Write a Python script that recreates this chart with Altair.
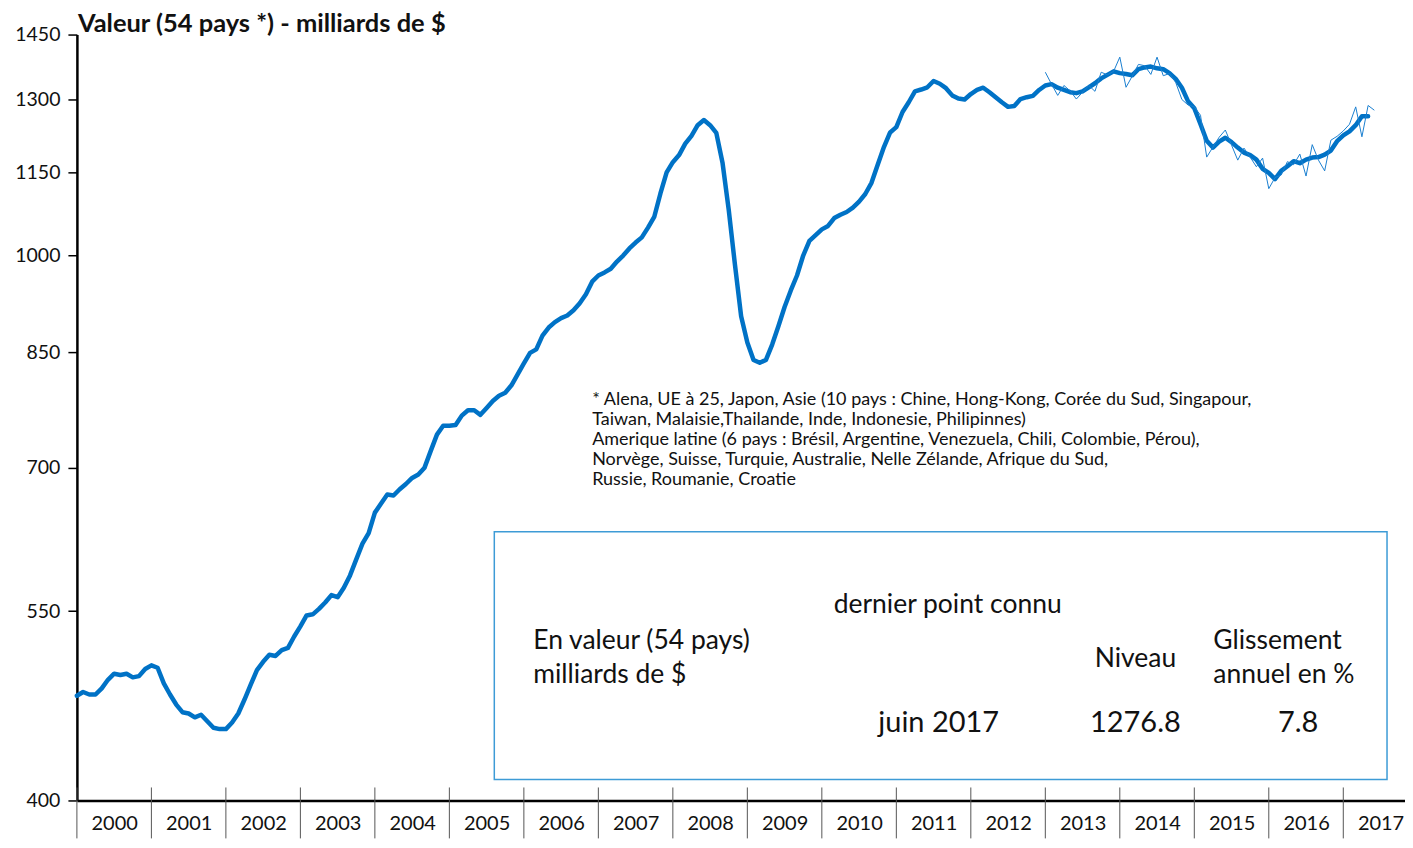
import altair as alt
import pandas as pd

# ---------------- data ----------------
annees = list(range(2000, 2018))
y_ticks = [400, 550, 700, 850, 1000, 1150, 1300, 1450]

# smoothed series (thick line), monthly Jan 2000 -> May 2017
tendance = [
    477, 480, 478, 478, 483, 490, 495, 494, 495, 492, 493, 499,          # 2000
    502, 500, 487, 478, 470, 464, 463, 460, 462, 457, 452, 451,          # 2001
    451, 456, 463, 474, 486, 498, 505, 511, 510, 515, 517, 527,          # 2002
    536, 546, 547, 552, 558, 565, 563, 572, 584, 600, 616, 627,          # 2003
    649, 659, 669, 668, 675, 681, 688, 692, 700, 720, 740, 751,          # 2004
    751, 752, 764, 771, 771, 765, 774, 783, 790, 794, 804, 819,          # 2005
    834, 849, 854, 874, 886, 894, 900, 904, 912, 923, 937, 957,          # 2006
    967, 972, 978, 990, 1000, 1012, 1022, 1031, 1048, 1067, 1110, 1150,  # 2007
    1170, 1184, 1207, 1223, 1245, 1256, 1245, 1229, 1169, 1080, 985, 903,  # 2008
    864, 839, 835, 839, 861, 888, 917, 943, 967, 1000, 1025, 1035,      # 2009
    1045, 1051, 1065, 1071, 1076, 1084, 1095, 1109, 1130, 1165, 1200, 1230,  # 2010
    1241, 1273, 1294, 1318, 1322, 1327, 1341, 1335, 1325, 1309, 1302, 1300,  # 2011
    1312, 1321, 1326, 1316, 1305, 1294, 1284, 1286, 1301, 1305, 1308, 1321,  # 2012
    1331, 1334, 1326, 1321, 1316, 1314, 1318, 1327, 1336, 1347, 1355, 1363,  # 2013
    1359, 1357, 1354, 1368, 1372, 1374, 1370, 1368, 1359, 1346, 1326, 1296,  # 2014
    1281, 1247, 1213, 1199, 1211, 1219, 1210, 1199, 1189, 1184, 1175, 1157,  # 2015
    1149, 1137, 1153, 1162, 1172, 1168, 1175, 1179, 1180, 1185, 1193, 1212,  # 2016
    1224, 1232, 1245, 1264, 1264,                                          # 2017
]

# raw monthly series (thin line), Jan 2013 -> Jun 2017
brut = [
    1361, 1334, 1309, 1331, 1319, 1301, 1316, 1331, 1318, 1361, 1355, 1363,  # 2013
    1396, 1327, 1352, 1379, 1376, 1356, 1396, 1353, 1358, 1338, 1300, 1288,  # 2014
    1284, 1266, 1180, 1200, 1220, 1235, 1204, 1174, 1198, 1180, 1161, 1178,  # 2015
    1119, 1140, 1145, 1171, 1165, 1186, 1143, 1205, 1174, 1153, 1214, 1222,  # 2016
    1233, 1247, 1284, 1221, 1287, 1276.8,                                    # 2017
]

titre = "Valeur (54 pays *) - milliards de $"
note_lignes = [
    "* Alena, UE à 25, Japon, Asie (10 pays : Chine, Hong-Kong, Corée du Sud, Singapour,",
    "Taiwan, Malaisie,Thailande, Inde, Indonesie, Philipinnes)",
    "Amerique latine (6 pays : Brésil, Argentine, Venezuela, Chili, Colombie, Pérou),",
    "Norvège, Suisse, Turquie,  Australie, Nelle Zélande, Afrique du Sud,",
    "Russie, Roumanie, Croatie",
]
box_gauche = ["En valeur (54 pays)", "milliards de $", "Glissement", "annuel en %"]
box_centre = ["dernier point connu", "Niveau"]
box_valeurs = ["juin 2017", "1276.8", "7.8"]

# ---------------- layout ----------------
BLUE = "#0072C6"
FONT = "Lato"
W = 1330
H = 767
PAD_TOP = 26
PAD_LEFT = 69
PAD_BOTTOM = 38
PLOT_TOP = 8 + PAD_TOP      # page y of plot top
PLOT_LEFT = 8 + PAD_LEFT    # page x of plot left
PX_PER_YEAR = 74.6


def rx(page_x):
    return page_x - PLOT_LEFT


def ry(page_y):
    return page_y - PLOT_TOP


def frac_years(start_year, n):
    return [start_year + i / 12 for i in range(n)]


df_t = pd.DataFrame({"t": frac_years(2000, len(tendance)), "v": tendance})
df_b = pd.DataFrame({"t": frac_years(2013, len(brut)), "v": brut})
df_an = pd.DataFrame({"an": annees})
one = pd.DataFrame({"k": [0]})

x_scale = alt.Scale(domain=[2000, 2000 + W / PX_PER_YEAR], nice=False, zero=False)
y_scale = alt.Scale(type="log", domain=[400, 1450], nice=False)

x_axis = alt.Axis(
    values=annees, format="d", title=None, ticks=False, grid=False,
    labelOffset=PX_PER_YEAR / 2, labelPadding=13, labelFontSize=20,
    labelFont=FONT, labelColor="#111", labelOverlap=False, labelBound=False,
    labelFlush=False, labelBaseline="top",
    domainColor="#000", domainWidth=2.5,
)
y_axis = alt.Axis(
    values=y_ticks, format="d", title=None, grid=False,
    tickSize=9, tickColor="#000", tickWidth=1.5,
    labelFontSize=19.5, labelFont=FONT, labelColor="#111", labelPadding=8,
    labelOverlap=False, minExtent=64, maxExtent=64,
    domainColor="#000", domainWidth=2.5,
)

thick = alt.Chart(df_t).mark_line(
    color=BLUE, strokeWidth=4.5, strokeJoin="round", strokeCap="round"
).encode(
    x=alt.X("t:Q", scale=x_scale, axis=x_axis),
    y=alt.Y("v:Q", scale=y_scale, axis=y_axis),
)

thin = alt.Chart(df_b).mark_line(color="#1a7fd0", strokeWidth=1).encode(
    x=alt.X("t:Q", scale=x_scale),
    y=alt.Y("v:Q", scale=y_scale),
)

year_ticks = alt.Chart(df_an).mark_rule(color="#555", strokeWidth=1).encode(
    x=alt.X("an:Q", scale=x_scale),
    y=alt.value(H - 13),
    y2=alt.value(H + PAD_BOTTOM),
)

box = alt.Chart(one).mark_rect(
    fill="white", stroke="#3D9BD6", strokeWidth=1.5
).encode(
    x=alt.value(rx(495)), x2=alt.value(rx(1389)),
    y=alt.value(ry(532)), y2=alt.value(ry(780)),
)

df_left = pd.DataFrame({
    "txt": box_gauche,
    "px": [rx(534), rx(534), rx(1215), rx(1215)],
    "py": [ry(641), ry(675), ry(641), ry(675)],
})
df_center = pd.DataFrame({
    "txt": box_centre,
    "px": [rx(949), rx(1137)],
    "py": [ry(605), ry(659)],
})
df_vals = pd.DataFrame({
    "txt": box_valeurs,
    "px": [rx(940), rx(1137), rx(1300)],
    "py": [ry(723), ry(723), ry(723)],
})


def text_layer(df, align, size):
    return alt.Chart(df).mark_text(
        align=align, baseline="middle", font=FONT, fontSize=size, color="#111"
    ).encode(
        x=alt.X("px:Q", scale=None, axis=None),
        y=alt.Y("py:Q", scale=None, axis=None),
        text="txt:N",
    )


t_left = text_layer(df_left, "left", 26.5)
t_center = text_layer(df_center, "center", 26.5)
t_vals = text_layer(df_vals, "center", 29)

note = alt.Chart(one).mark_text(
    align="left", baseline="top", font=FONT, fontSize=18, lineHeight=20,
    color="#111",
).encode(
    x=alt.value(rx(593)), y=alt.value(ry(391)), text=alt.value(note_lignes)
)

title = alt.Chart(one).mark_text(
    align="left", baseline="alphabetic", font=FONT, fontSize=25.5,
    fontWeight="bold", color="#111",
).encode(x=alt.value(1), y=alt.value(ry(31)), text=alt.value(titre))

chart = alt.layer(
    year_ticks, box, t_left, t_center, t_vals, note, title, thick, thin
).properties(
    width=W, height=H,
    autosize=alt.AutoSizeParams(type="none"),
    padding={"left": PAD_LEFT, "top": PAD_TOP, "right": 0, "bottom": PAD_BOTTOM},
).configure(background="white", view=alt.ViewConfig(stroke=None))

chart.save("out.html", embed_options={"renderer": "svg", "actions": False})
